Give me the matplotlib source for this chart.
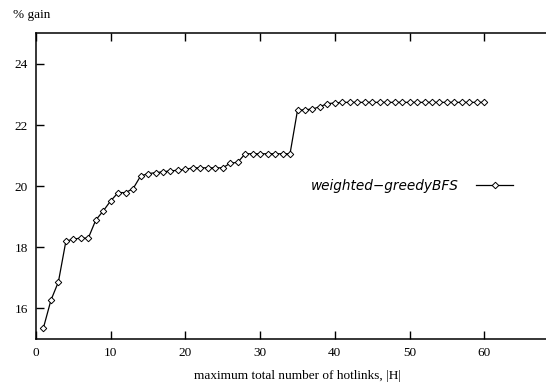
import matplotlib
matplotlib.use("Agg")
import matplotlib.pyplot as plt
from matplotlib.lines import Line2D

# maximum total number of hotlinks |H| and the % gain
hotlinks = list(range(1, 61))
gain = [15.37, 16.27, 16.87, 18.20, 18.27, 18.30, 18.30, 18.89, 19.19, 19.52,
        19.79, 19.79, 19.92, 20.33, 20.41, 20.44, 20.47, 20.50, 20.52, 20.55,
        20.60, 20.60, 20.60, 20.60, 20.60, 20.75, 20.78, 21.06, 21.06, 21.06,
        21.06, 21.06, 21.06, 21.06, 22.48, 22.50, 22.52, 22.60, 22.70, 22.72,
        22.74, 22.74, 22.74, 22.74, 22.74, 22.74, 22.74, 22.74, 22.74, 22.74,
        22.74, 22.74, 22.74, 22.74, 22.74, 22.74, 22.74, 22.74, 22.74, 22.74]

series_name = "weighted\u2212greedyBFS"
xticks = [0, 10, 20, 30, 40, 50, 60]
yticks = [16, 18, 20, 22, 24]

serif = "Liberation Serif"

fig = plt.figure(figsize=(5.46, 3.89), dpi=100)
# axes runs past the right edge of the picture, as in the cropped original
ax = fig.add_axes([36 / 546, 1 - 339 / 389, 523 / 546, (339 - 33.3) / 389])

ax.plot(hotlinks, gain, color="black", linewidth=0.9, marker="D",
        markersize=3.3, markerfacecolor="white", markeredgecolor="black",
        markeredgewidth=0.7, clip_on=False)

ax.set_xlim(0, 70)
ax.set_ylim(15, 25)
ax.set_xticks(xticks)
ax.set_yticks(yticks)
ax.tick_params(direction="in", length=6, width=1, top=True, right=True,
               labelsize=9.5, pad=6)
for lab in ax.get_xticklabels() + ax.get_yticklabels():
    lab.set_fontfamily(serif)
for sp in ax.spines.values():
    sp.set_linewidth(1.1)

ax.set_xlabel("maximum total number of hotlinks, |H|", family=serif,
              fontsize=9.5, labelpad=8)
fig.text(13 / 546, 1 - 15 / 389, "% gain", family=serif, fontsize=9.5,
         va="center", ha="left")

handle = Line2D([], [], color="black", linewidth=0.9, marker="D",
                markersize=3.3, markerfacecolor="white",
                markeredgecolor="black", markeredgewidth=0.7)
leg = ax.legend([handle], [series_name], frameon=False, markerfirst=False,
                loc="center left", bbox_to_anchor=(0.515, 0.502),
                handlelength=2.7, handletextpad=1.3, borderaxespad=0,
                prop={"family": "DejaVu Sans", "style": "italic", "size": 9.8})

fig.savefig("out.png", dpi=100)
